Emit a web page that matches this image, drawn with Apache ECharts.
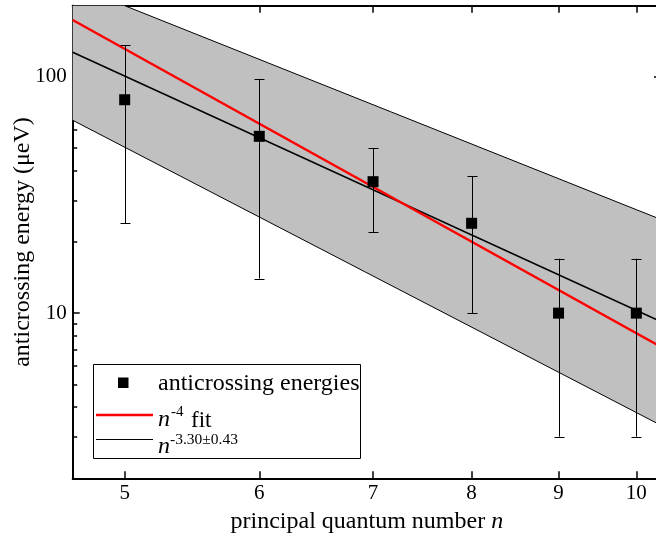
<!DOCTYPE html>
<html>
<head>
<meta charset="utf-8">
<script src="https://cdn.jsdelivr.net/npm/echarts@6/dist/echarts.min.js"></script>
<style>
html,body{margin:0;padding:0;background:#fff;}
#chart{width:656px;height:545px;}
</style>
</head>
<body>
<div id="chart"></div>
<script>
// ---- data ----
var nValues = [5, 6, 7, 8, 9, 10];
var energies = [80, 56, 36, 24, 10, 10];
var errLow = [24, 14, 22, 10, 3, 3];
var errHigh = [136, 98, 50, 38, 17, 17];

var fitN4X = [4.66, 10.34];
var fitN4Y = [174, 7.2];
var fitPowX = [4.66, 10.34];
var fitPowY = [127, 9.2];

var bandUpperX = [4.66, 5.0, 10.34];
var bandUpperY = [200, 200, 24.9];
var bandLowerX = [4.66, 10.34];
var bandLowerY = [65.5, 3.35];

var xTicks = [5, 6, 7, 8, 9, 10];
var yMajor = [10, 100];
var yMinor = [2, 3, 4, 5, 6, 7, 8, 9, 20, 30, 40, 50, 60, 70, 80, 90];

var X_MIN = 4.66, X_MAX = 10.34, Y_MIN = 2, Y_MAX = 200;
var FONT = 'Liberation Serif';

function pairs(xs, ys) { return xs.map(function (x, i) { return [x, ys[i]]; }); }

var chart = echarts.init(document.getElementById('chart'));

function xAx(pos, labels) {
  return {
    type: 'log', logBase: 10, min: X_MIN, max: X_MAX, position: pos,
    axisLine: { show: true, onZero: false, lineStyle: { color: '#000', width: 2 } },
    axisTick: { show: true, inside: true, length: 7, lineStyle: { color: '#000', width: 1.5 }, customValues: xTicks },
    axisLabel: { show: labels, margin: 5, color: '#000', fontFamily: FONT, fontSize: 21, customValues: xTicks },
    splitLine: { show: false }, minorTick: { show: false }
  };
}
function yAx(pos, vals, len, labels) {
  return {
    type: 'log', logBase: 10, min: Y_MIN, max: Y_MAX, position: pos,
    axisLine: { show: true, onZero: false, lineStyle: { color: '#000', width: 2 } },
    axisTick: { show: true, inside: true, length: len, lineStyle: { color: '#000', width: 1.5 }, customValues: vals },
    axisLabel: { show: labels, margin: 6, color: '#000', fontFamily: FONT, fontSize: 21, customValues: vals },
    splitLine: { show: false }, minorTick: { show: false }
  };
}

var yMain = yAx('left', yMajor, 7, true);
yMain.name = 'anticrossing energy (\u03bceV)';
yMain.nameLocation = 'middle';
yMain.nameGap = 38;
yMain.nameMoveOverlap = false;
yMain.nameTextStyle = { color: '#000', fontFamily: FONT, fontSize: 24 };

var xMain = xAx('bottom', true);
xMain.name = '{a|principal quantum number }{b|n}';
xMain.nameLocation = 'middle';
xMain.nameGap = 31;
xMain.nameMoveOverlap = false;
xMain.nameTextStyle = {
  color: '#000', fontFamily: FONT, fontSize: 24,
  rich: { a: { fontFamily: FONT, fontSize: 24, color: '#000' }, b: { fontFamily: FONT, fontSize: 24, fontStyle: 'italic', color: '#000' } }
};

var option = {
  animation: false,
  backgroundColor: '#fff',
  grid: { left: 72.7, top: 5.7, right: -5, bottom: 66.7, containLabel: false, outerBoundsMode: 'none' },
  xAxis: [xMain, xAx('top', false)],
  yAxis: [yMain, yAx('left', yMinor, 4.5, false), yAx('right', yMajor, 7, false), yAx('right', yMinor, 4.5, false)],
  series: [
    {
      type: 'custom', xAxisIndex: 0, yAxisIndex: 0, z: 1, silent: true,
      data: [[0]],
      renderItem: function (params, api) {
        var up = pairs(bandUpperX, bandUpperY).map(function (p) { return api.coord(p); });
        var lo = pairs(bandLowerX, bandLowerY).map(function (p) { return api.coord(p); });
        var poly = up.concat(lo.slice().reverse());
        return {
          type: 'group',
          children: [
            { type: 'polygon', shape: { points: poly }, style: { fill: '#c0c0c0', stroke: null } },
            { type: 'polyline', shape: { points: up.slice(1) }, style: { fill: null, stroke: '#000', lineWidth: 1 } },
            { type: 'polyline', shape: { points: lo }, style: { fill: null, stroke: '#000', lineWidth: 1 } }
          ]
        };
      }
    },
    {
      type: 'line', xAxisIndex: 0, yAxisIndex: 0, z: 3, silent: true,
      data: pairs(fitPowX, fitPowY), showSymbol: false, symbol: 'none',
      lineStyle: { color: '#000', width: 1.5 }
    },
    {
      type: 'line', xAxisIndex: 0, yAxisIndex: 0, z: 4, silent: true,
      data: pairs(fitN4X, fitN4Y), showSymbol: false, symbol: 'none',
      lineStyle: { color: '#ff0000', width: 2.5 }
    },
    {
      type: 'custom', xAxisIndex: 0, yAxisIndex: 0, z: 5, silent: true,
      data: nValues.map(function (n, i) { return [n, errLow[i], errHigh[i]]; }),
      renderItem: function (params, api) {
        var lo = api.coord([api.value(0), api.value(1)]);
        var hi = api.coord([api.value(0), api.value(2)]);
        var x = Math.round(lo[0]) + 0.5, w = 5;
        var st = { stroke: '#000', lineWidth: 1 };
        return {
          type: 'group',
          children: [
            { type: 'line', shape: { x1: x, y1: lo[1], x2: x, y2: hi[1] }, style: st },
            { type: 'line', shape: { x1: x - w, y1: Math.round(lo[1]) + 0.5, x2: x + w, y2: Math.round(lo[1]) + 0.5 }, style: st },
            { type: 'line', shape: { x1: x - w, y1: Math.round(hi[1]) + 0.5, x2: x + w, y2: Math.round(hi[1]) + 0.5 }, style: st }
          ]
        };
      }
    },
    {
      type: 'scatter', xAxisIndex: 0, yAxisIndex: 0, z: 6, silent: true,
      data: pairs(nValues, energies), symbol: 'rect', symbolSize: 11,
      itemStyle: { color: '#000', opacity: 1 }
    }
  ],
  graphic: [
    { type: 'rect', z: 100, shape: { x: 93.5, y: 364.5, width: 267, height: 94 }, style: { fill: '#fff', stroke: '#000', lineWidth: 1 } },
    { type: 'rect', z: 101, shape: { x: 118, y: 377.5, width: 10.5, height: 10.5 }, style: { fill: '#000' } },
    { type: 'text', z: 101, x: 158, y: 383.5, style: { text: 'anticrossing energies', font: '24px "Liberation Serif"', fill: '#000', verticalAlign: 'middle' } },
    { type: 'line', z: 101, shape: { x1: 96, y1: 415, x2: 153, y2: 415 }, style: { stroke: '#ff0000', lineWidth: 2.5 } },
    { type: 'text', z: 101, x: 158, y: 420, style: { text: 'n', font: 'italic 24px "Liberation Serif"', fill: '#000', verticalAlign: 'middle' } },
    { type: 'text', z: 101, x: 171, y: 412, style: { text: '-4', font: '15px "Liberation Serif"', fill: '#000', verticalAlign: 'middle' } },
    { type: 'text', z: 101, x: 191, y: 420.5, style: { text: 'fit', font: '23px "Liberation Serif"', fill: '#000', verticalAlign: 'middle' } },
    { type: 'line', z: 101, shape: { x1: 96, y1: 439.5, x2: 153, y2: 439.5 }, style: { stroke: '#000', lineWidth: 1.2 } },
    { type: 'text', z: 101, x: 158, y: 447, style: { text: 'n', font: 'italic 24px "Liberation Serif"', fill: '#000', verticalAlign: 'middle' } },
    { type: 'text', z: 101, x: 170, y: 439.5, style: { text: '-3.30\u00b10.43', font: '15.5px "Liberation Serif"', fill: '#000', verticalAlign: 'middle' } }
  ]
};
chart.setOption(option);
</script>
</body>
</html>
